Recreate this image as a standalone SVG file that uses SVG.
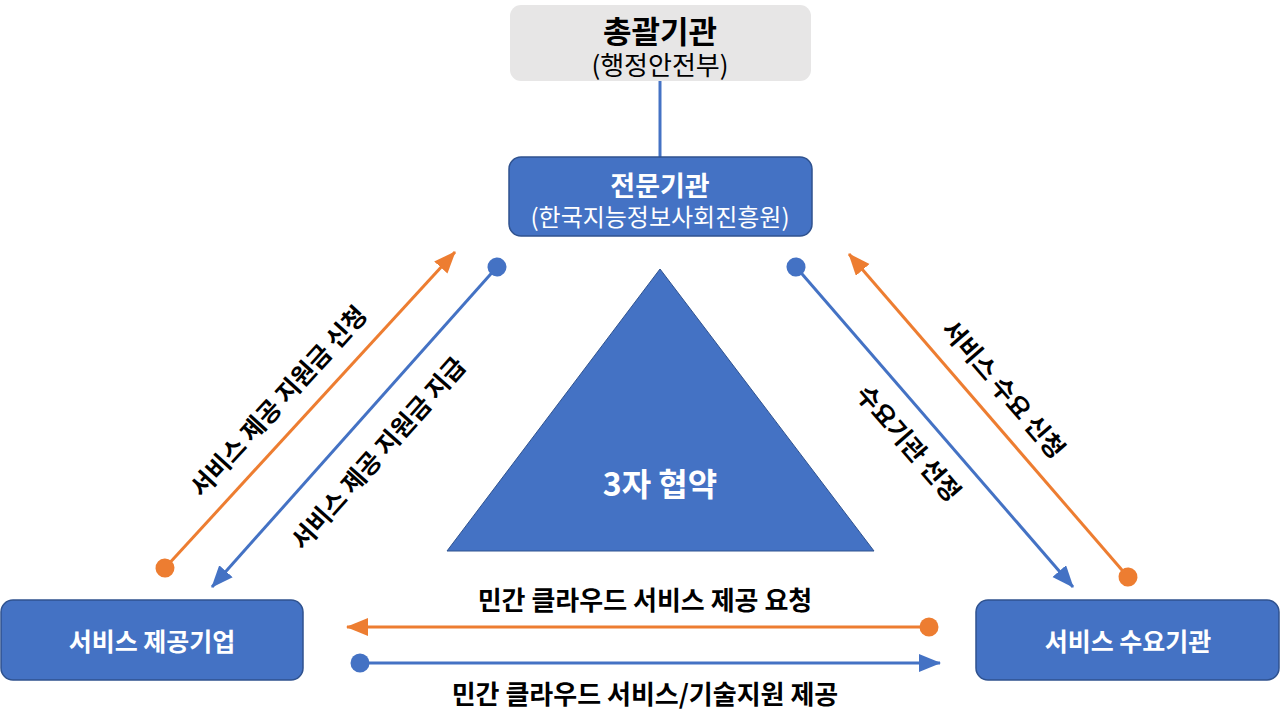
<svg xmlns="http://www.w3.org/2000/svg" width="1280" height="721" viewBox="0 0 1280 721">
<style>
text{font-family:"Noto Sans CJK KR","Noto Sans",sans-serif;text-anchor:middle;dominant-baseline:central}
.w{fill:#fff}
.k{fill:#000}
.b{font-weight:bold}
.box{fill:#4472C4;stroke:#2F528F;stroke-width:1.5}
.lb{stroke:#4472C4;stroke-width:3;fill:none}
.lo{stroke:#ED7D31;stroke-width:3;fill:none}
</style>
<defs>
<marker id="ab" markerUnits="userSpaceOnUse" markerWidth="24" markerHeight="20" refX="21" refY="9" orient="auto"><path d="M0,0 L22,9 L0,18 z" fill="#4472C4"/></marker>
<marker id="ao" markerUnits="userSpaceOnUse" markerWidth="24" markerHeight="20" refX="21" refY="9" orient="auto"><path d="M0,0 L22,9 L0,18 z" fill="#ED7D31"/></marker>
<marker id="cb" markerUnits="userSpaceOnUse" markerWidth="22" markerHeight="22" refX="11" refY="11" orient="auto"><circle cx="11" cy="11" r="9.5" fill="#4472C4"/></marker>
<marker id="co" markerUnits="userSpaceOnUse" markerWidth="22" markerHeight="22" refX="11" refY="11" orient="auto"><circle cx="11" cy="11" r="9.5" fill="#ED7D31"/></marker>
</defs>
<rect width="1280" height="721" fill="#fff"/>
<g id="connectors">
<line class="lb" x1="660" y1="81" x2="660" y2="157"/>
<line class="lo" x1="165" y1="568" x2="455" y2="252" marker-start="url(#co)" marker-end="url(#ao)"/>
<line class="lb" x1="497" y1="267" x2="212" y2="587" marker-start="url(#cb)" marker-end="url(#ab)"/>
<line class="lb" x1="796" y1="267" x2="1073" y2="587" marker-start="url(#cb)" marker-end="url(#ab)"/>
<line class="lo" x1="1128" y1="577" x2="849" y2="254" marker-start="url(#co)" marker-end="url(#ao)"/>
<line class="lo" x1="929" y1="627" x2="347" y2="627" marker-start="url(#co)" marker-end="url(#ao)"/>
<line class="lb" x1="360" y1="663" x2="940" y2="663" marker-start="url(#cb)" marker-end="url(#ab)"/>
<text class="k b" font-size="25" transform="translate(277,400) rotate(-47.5)">서비스 제공 지원금 신청</text>
<text class="k b" font-size="25" transform="translate(377,452) rotate(-48.3)">서비스 제공 지원금 지급</text>
<text class="k b" font-size="25" transform="translate(910,442) rotate(49)">수요기관 선정</text>
<text class="k b" font-size="25" transform="translate(1005,388) rotate(49.2)">서비스 수요 신청</text>
<text class="k b" font-size="26" x="645" y="598">민간 클라우드 서비스 제공 요청</text>
<text class="k b" font-size="26" x="645" y="692">민간 클라우드 서비스/기술지원 제공</text>
</g>
<g id="top">
<rect x="510" y="5" width="301" height="76" rx="11" fill="#E7E6E6"/>
<text class="k b" font-size="31" x="660" y="29">총괄기관</text>
<text class="k" font-size="26" x="660" y="63">(행정안전부)</text>
</g>
<g id="expert">
<rect class="box" x="509" y="157" width="303" height="79" rx="12"/>
<text class="w b" font-size="27" x="660" y="184">전문기관</text>
<text class="w" font-size="24" x="660" y="215">(한국지능정보사회진흥원)</text>
</g>
<g id="agreement">
<polygon points="660,269 874,551 447,551" fill="#4472C4" stroke="#2F528F" stroke-width="1"/>
<text class="w b" font-size="32" x="660" y="482">3자 협약</text>
</g>
<g id="provider">
<rect class="box" x="1" y="600" width="302" height="80" rx="12"/>
<text class="w b" font-size="25" x="152" y="640">서비스 제공기업</text>
</g>
<g id="demand">
<rect class="box" x="976" y="600" width="303" height="80" rx="12"/>
<text class="w b" font-size="25" x="1128" y="640">서비스 수요기관</text>
</g>
</svg>
